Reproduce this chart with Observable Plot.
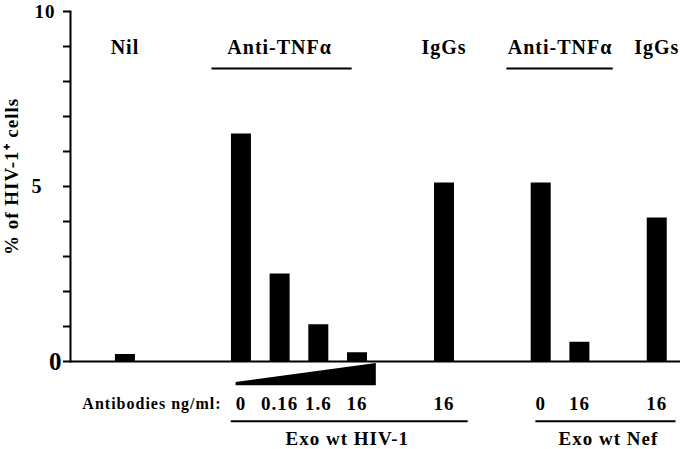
<!DOCTYPE html>
<html><head><meta charset="utf-8">
<script src="https://cdn.jsdelivr.net/npm/d3@7"></script>
<script src="https://cdn.jsdelivr.net/npm/@observablehq/plot@0.6"></script>
<style>
body{margin:0;background:#fff;}
#chart svg{display:block}
</style>
</head><body><div id="chart"></div>
<script>
// ---- Data ----
const conditions = ["Nil", "HIV anti-TNFα 0", "HIV anti-TNFα 0.16", "HIV anti-TNFα 1.6", "HIV anti-TNFα 16", "HIV IgGs 16", "Nef anti-TNFα 0", "Nef anti-TNFα 16", "Nef IgGs 16"];
const percentHIV = [0.2, 6.5, 2.5, 1.05, 0.25, 5.1, 5.1, 0.55, 4.1];
const doseLabels = ["", "0", "0.16", "1.6", "16", "16", "0", "16", "16"];
const treatmentLabels = ["Nil", "Anti-TNFα", "IgGs", "Anti-TNFα", "IgGs"];
const exosomeLabels = ["Exo wt HIV-1", "Exo wt Nef"];
const doseAxisLabel = "Antibodies ng/ml:";
const yTickLabels = [0, 5, 10];
const yMinorTicks = [0, 1, 2, 3, 4, 5, 6, 7, 8, 9, 10];
const yLabel = "% of HIV-1⁺ cells";

// ---- Layout (x slots, half a bar spacing each) ----
const barSlot = [0, 24, 32, 40, 48, 66, 86, 94, 110];
const nSlots = 115;
const slotKey = i => { const b = barSlot.indexOf(i); return b >= 0 ? conditions[b] : `_${i}`; };
const xDomain = d3.range(nSlots).map(slotKey);
const treatmentSlot = [0, 32, 66, 90, 110];
const treatmentLineSlots = [[18, 47], [79, 101]];
const exosomeSlot = [46, 100];
const exosomeLineSlots = [[22, 71], [85, 114]];
const doseAxisSlot = 20;
const wedgeSlots = [23, 52];

const bars = conditions.map((c, i) => ({condition: c, value: percentHIV[i], dose: doseLabels[i]}));
const treatments = treatmentLabels.map((t, i) => ({label: t, x: slotKey(treatmentSlot[i])}));
const treatmentLines = treatmentLineSlots.map(([a, b]) => ({x1: slotKey(a), x2: slotKey(b), y: 8.37}));
const exosomes = exosomeLabels.map((t, i) => ({label: t, x: slotKey(exosomeSlot[i])}));
const exosomeLines = exosomeLineSlots.map(([a, b]) => ({x1: slotKey(a), x2: slotKey(b), y: -1.71}));
const doseAxis = [{label: doseAxisLabel, x: slotKey(doseAxisSlot)}];
const wedge = [
  {x: slotKey(wedgeSlots[0]), y1: -0.69, y2: -0.6},
  {x: slotKey(wedgeSlots[1]), y1: -0.69, y2: -0.06}
];

const chart = Plot.plot({
  width: 680,
  height: 449,
  marginTop: 11,
  marginBottom: 88,
  marginLeft: 70,
  marginRight: 0,
  x: {type: "point", domain: xDomain, range: [122, 678], axis: null},
  y: {domain: [0, 10], axis: null},
  style: {fontFamily: "'Liberation Serif', 'Times New Roman', serif", fontWeight: "bold", color: "black", background: "white", letterSpacing: "1px"},
  marks: [
    Plot.ruleX(bars, {x: "condition", y1: 0, y2: "value", stroke: "black", strokeWidth: 20}),
    Plot.ruleY([0], {stroke: "black", strokeWidth: 2}),
    Plot.frame({anchor: "left", stroke: "black", strokeWidth: 2}),
    Plot.axisY({ticks: yMinorTicks, tickSize: 7, tickFormat: () => "", strokeWidth: 2, label: null}),
    Plot.axisY({ticks: [yTickLabels[2]], tickSize: 0, tickPadding: 15, fontSize: 19, label: null}),
    Plot.axisY({ticks: [yTickLabels[1]], tickSize: 0, tickPadding: 28, fontSize: 20, label: null}),
    Plot.axisY({ticks: [yTickLabels[0]], tickSize: 0, tickPadding: 8, fontSize: 25, label: null}),
    Plot.text([yLabel], {frameAnchor: "left", textAnchor: "middle", lineAnchor: "middle", rotate: -90, dx: -59, dy: -10, fontSize: 19}),
    Plot.text(treatments, {x: "x", text: "label", frameAnchor: "top", lineAnchor: "middle", dy: 36, fontSize: 20}),
    Plot.ruleY(treatmentLines, {x1: "x1", x2: "x2", y: "y", stroke: "black", strokeWidth: 2}),
    Plot.areaY(wedge, {x: "x", y1: "y1", y2: "y2", fill: "black"}),
    Plot.text(bars, {x: "condition", text: "dose", frameAnchor: "bottom", lineAnchor: "middle", dy: 42, fontSize: 19}),
    Plot.text(doseAxis, {x: "x", text: "label", frameAnchor: "bottom", lineAnchor: "middle", dy: 42, textAnchor: "end", fontSize: 16}),
    Plot.ruleY(exosomeLines, {x1: "x1", x2: "x2", y: "y", stroke: "black", strokeWidth: 2}),
    Plot.text(exosomes, {x: "x", text: "label", frameAnchor: "bottom", lineAnchor: "middle", dy: 77, fontSize: 19})
  ]
});
document.getElementById("chart").append(chart);
</script>
</body></html>
